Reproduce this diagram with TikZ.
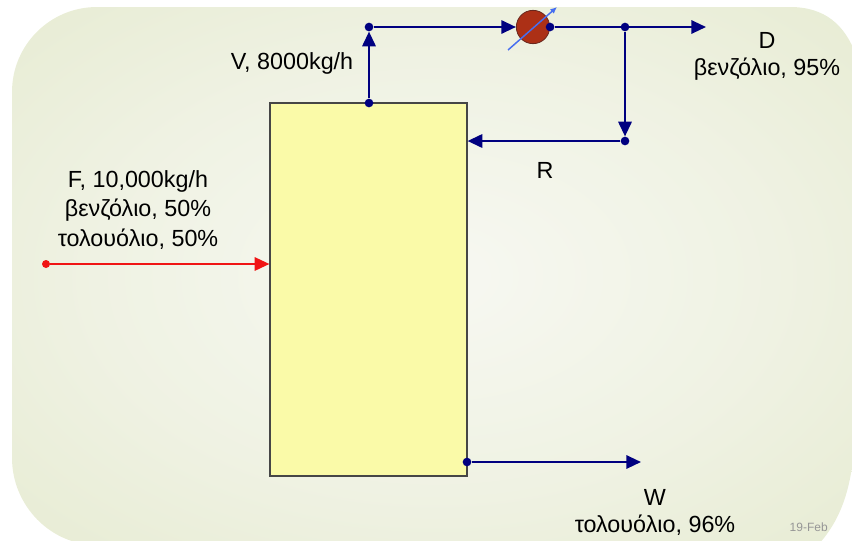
\documentclass[tikz,border=0pt]{standalone}
\usepackage{fontspec}
\setmainfont{Liberation Sans}
\usetikzlibrary{positioning, arrows.meta}

\definecolor{navy}{RGB}{0,0,128}
\definecolor{feedred}{RGB}{240,20,20}
\definecolor{bginner}{RGB}{247,248,242}
\definecolor{bgouter}{RGB}{216,224,182}
\definecolor{colfill}{RGB}{250,250,168}
\definecolor{condfill}{RGB}{172,48,22}
\definecolor{condedge}{RGB}{105,40,30}
\definecolor{coolblue}{RGB}{70,110,240}

\pgfdeclareradialshading{bgshade}{\pgfpoint{0bp}{0bp}}{color(0bp)=(bginner); color(20bp)=(bginner!75!bgouter); color(65bp)=(bgouter)}

\begin{document}
\begin{tikzpicture}[
    x=0.75pt, y=-0.75pt,
    lbl/.style={font=\fontsize{17.5}{22}\selectfont, align=center, inner sep=0pt},
    column/.style={rectangle, draw={rgb,255:red,70;green,70;blue,70}, line width=0.9pt,
                   fill=colfill, minimum width=147.75pt, minimum height=279.75pt},
    cond/.style={circle, draw=condedge, line width=0.6pt, fill=condfill, minimum size=25pt, inner sep=0pt},
    dot/.style={circle, fill=navy, inner sep=0pt, minimum size=6.5pt},
    flow/.style={draw=navy, line width=1.6pt, -{Triangle[length=11pt, width=10pt]}},
    feed/.style={draw=feedred, line width=1.4pt, -{Triangle[length=11pt, width=10pt]}},
]

% Background
\useasboundingbox (0,0) rectangle (852,540);
\path[shading=bgshade] (12,92) .. controls (12,45) and (50,7) .. (97,7) -- (790,7)
    .. controls (825,7) and (845,25) .. (856,55) -- (856,400)
    .. controls (856,470) and (848,512) .. (818,545) -- (97,545)
    .. controls (50,545) and (12,505) .. (12,458) -- cycle;
\begin{scope}
  \clip (856,400) .. controls (856,470) and (848,512) .. (818,545) -- (700,545) -- (700,400) -- cycle;
  \node[font=\fontsize{9}{10}\selectfont, text={rgb,255:red,150;green,150;blue,150}, anchor=west] (date) at (785,527) {19-Feb};
\end{scope}

% Column
\node[column] (col) at (368.5,289.5) {};

% Condenser
\node[cond] (cond) at (533,27) {};
\draw[coolblue, line width=1.1pt, -{Latex[length=5pt, width=4.5pt]}] ([shift={(-25,23)}]cond.center) -- ([shift={(24,-20)}]cond.center);

% Junctions
\node[dot] (vtop) at (369,103) {};
\node[dot] (vcorner) at (369,27) {};
\node[dot] (cout) at (cond.east) {};
\node[dot] (split) at (625,27) {};
\node[dot] (rcorner) at (625,141) {};
\node[dot] (wdot) at (467,462) {};
\node[circle, fill=feedred, inner sep=0pt, minimum size=6pt] (fdot) at (46,264) {};
\coordinate (dend) at (706,27);
\coordinate (wend) at (641,462);

% Streams
\draw[flow] (vtop) -- (vcorner);
\draw[flow] (vcorner) -- (cond);
\draw[flow] (cout) -- (dend);
\draw[flow] (split) -- (rcorner);
\draw[flow] (rcorner) -- (rcorner -| col.east);
\draw[feed] (fdot) -- (fdot -| col.west);
\draw[flow] (wdot) -- (wend);

% Labels
\node[lbl] (vlbl) at (292,63) {V, 8000kg/h};
\node[lbl] (dlbl) at (767,40) {D};
\node[lbl, below=7pt of dlbl] (dcomp) {βενζόλιο, 95\%};
\node[lbl] (rlbl) at (545,170) {R};
\node[lbl] (flbl) at (138,210) {F, 10,000kg/h\\βενζόλιο, 50\%\\τολουόλιο, 50\%};
\node[lbl] (wlbl) at (655,497) {W};
\node[lbl, below=7pt of wlbl] (wcomp) {τολουόλιο, 96\%};

\end{tikzpicture}
\end{document}
